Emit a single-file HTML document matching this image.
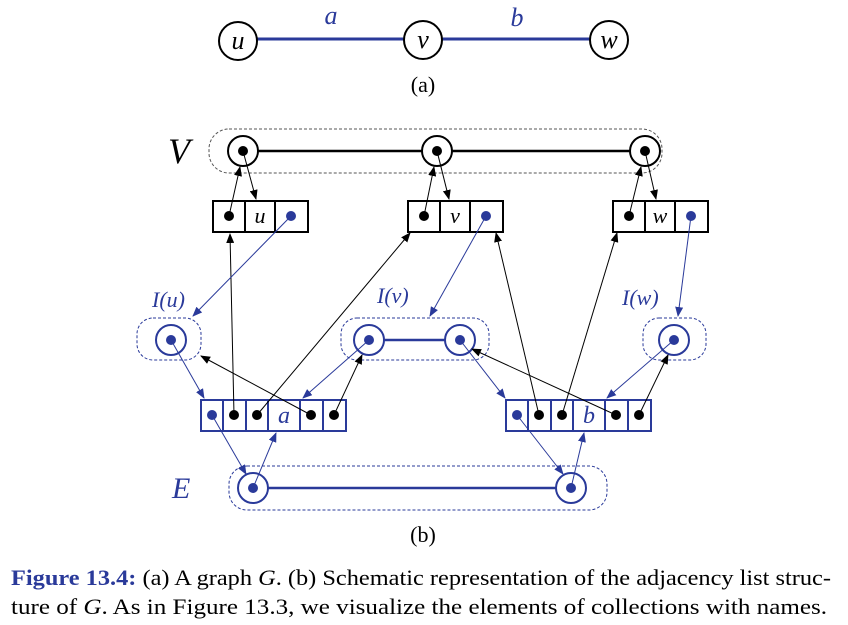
<!DOCTYPE html>
<html><head><meta charset="utf-8"><style>
html,body{margin:0;padding:0;background:#fff;}
svg{display:block;}
.t{font-family:"Liberation Serif",serif;}
</style></head><body>
<svg width="848" height="625" viewBox="0 0 848 625" xmlns="http://www.w3.org/2000/svg">
<defs>
<marker id="ak" markerWidth="10" markerHeight="8" refX="9" refY="4" orient="auto" markerUnits="userSpaceOnUse"><path d="M0,0 L10,4 L0,8 z" fill="#000"/></marker>
<marker id="ab" markerWidth="10" markerHeight="8" refX="9" refY="4" orient="auto" markerUnits="userSpaceOnUse"><path d="M0,0 L10,4 L0,8 z" fill="#2a3a9a"/></marker>
</defs>
<g>
<line x1="257" y1="39" x2="404" y2="39" stroke="#2a3a9a" stroke-width="3"/>
<line x1="442" y1="39" x2="590" y2="39" stroke="#2a3a9a" stroke-width="3"/>
<circle cx="238" cy="41" r="19" fill="#fff" stroke="#000" stroke-width="2"/>
<circle cx="423" cy="40" r="19" fill="#fff" stroke="#000" stroke-width="2"/>
<circle cx="609" cy="40" r="19" fill="#fff" stroke="#000" stroke-width="2"/>
<text class="t" x="238" y="49" font-size="26" font-style="italic" text-anchor="middle">u</text>
<text class="t" x="423" y="48" font-size="26" font-style="italic" text-anchor="middle">v</text>
<text class="t" x="609" y="48" font-size="26" font-style="italic" text-anchor="middle">w</text>
<text class="t" x="331" y="24" font-size="26" font-style="italic" fill="#2a3a9a" text-anchor="middle">a</text>
<text class="t" x="517" y="26" font-size="26" font-style="italic" fill="#2a3a9a" text-anchor="middle">b</text>
<text class="t" x="423" y="92" font-size="22" text-anchor="middle">(a)</text>
</g>
<rect x="209" y="129" width="453" height="44" rx="20" fill="none" stroke="#555" stroke-dasharray="3,2" stroke-width="1"/>
<text class="t" x="168" y="163" font-size="36" font-style="italic">V</text>
<line x1="258" y1="151" x2="422" y2="151" stroke="#000" stroke-width="2.5"/>
<line x1="452" y1="151" x2="630" y2="151" stroke="#000" stroke-width="2.5"/>
<g stroke="#000" stroke-width="2" fill="#fff">
<circle cx="243" cy="151" r="15"/>
<circle cx="437" cy="151" r="15"/>
<circle cx="645" cy="151" r="15"/>
</g>
<g fill="#000"><circle cx="243" cy="151" r="5"/><circle cx="437" cy="151" r="5"/><circle cx="645" cy="151" r="5"/></g>
<g stroke="#000" stroke-width="2" fill="#fff">
<rect x="213" y="201" width="95" height="31"/>
<line x1="245" y1="201" x2="245" y2="232"/><line x1="275" y1="201" x2="275" y2="232"/>
<rect x="408" y="201" width="95" height="31"/>
<line x1="440" y1="201" x2="440" y2="232"/><line x1="470" y1="201" x2="470" y2="232"/>
<rect x="613" y="201" width="95" height="31"/>
<line x1="645" y1="201" x2="645" y2="232"/><line x1="675" y1="201" x2="675" y2="232"/>
</g>
<g fill="#000"><circle cx="229" cy="216" r="5"/><circle cx="424" cy="216" r="5"/><circle cx="629" cy="216" r="5"/></g>
<g fill="#2a3a9a"><circle cx="291" cy="216" r="5"/><circle cx="486" cy="216" r="5"/><circle cx="691" cy="216" r="5"/></g>
<text class="t" x="260" y="223" font-size="22" font-style="italic" text-anchor="middle">u</text>
<text class="t" x="455" y="223" font-size="22" font-style="italic" text-anchor="middle">v</text>
<text class="t" x="660" y="223" font-size="22" font-style="italic" text-anchor="middle">w</text>
<g fill="none" stroke="#2a3a9a" stroke-dasharray="3,2" stroke-width="1">
<rect x="137" y="318" width="64" height="42" rx="16"/>
<rect x="341" y="318" width="148" height="42" rx="16"/>
<rect x="643" y="318" width="63" height="42" rx="16"/>
<rect x="229" y="466" width="378" height="44" rx="18"/>
</g>
<g fill="#2a3a9a" class="t" font-size="22" font-style="italic">
<text x="152" y="307">I(u)</text>
<text x="377" y="303">I(v)</text>
<text x="622" y="305">I(w)</text>
<text x="172" y="498" font-size="30">E</text>
</g>
<line x1="384" y1="340" x2="445" y2="340" stroke="#2a3a9a" stroke-width="2.5"/>
<line x1="268" y1="488" x2="556" y2="488" stroke="#2a3a9a" stroke-width="2.5"/>
<g stroke="#2a3a9a" stroke-width="2" fill="#fff">
<circle cx="171" cy="340" r="15"/><circle cx="369" cy="340" r="15"/><circle cx="460" cy="340" r="15"/><circle cx="674" cy="340" r="15"/>
<circle cx="253" cy="488" r="15"/><circle cx="571" cy="488" r="15"/>
</g>
<g fill="#2a3a9a"><circle cx="171" cy="340" r="5"/><circle cx="369" cy="340" r="5"/><circle cx="460" cy="340" r="5"/><circle cx="674" cy="340" r="5"/><circle cx="253" cy="488" r="5"/><circle cx="571" cy="488" r="5"/></g>
<g stroke="#2a3a9a" stroke-width="2" fill="#fff">
<rect x="201" y="400" width="145" height="31"/>
<line x1="223" y1="400" x2="223" y2="431"/><line x1="246" y1="400" x2="246" y2="431"/><line x1="268" y1="400" x2="268" y2="431"/><line x1="300" y1="400" x2="300" y2="431"/><line x1="323" y1="400" x2="323" y2="431"/>
<rect x="506" y="400" width="145" height="31"/>
<line x1="528" y1="400" x2="528" y2="431"/><line x1="551" y1="400" x2="551" y2="431"/><line x1="573" y1="400" x2="573" y2="431"/><line x1="605" y1="400" x2="605" y2="431"/><line x1="628" y1="400" x2="628" y2="431"/>
</g>
<g fill="#2a3a9a"><circle cx="212" cy="415" r="5"/><circle cx="517" cy="415" r="5"/></g>
<g fill="#000"><circle cx="234" cy="415" r="5"/><circle cx="257" cy="415" r="5"/><circle cx="311" cy="415" r="5"/><circle cx="334" cy="415" r="5"/>
<circle cx="539" cy="415" r="5"/><circle cx="562" cy="415" r="5"/><circle cx="616" cy="415" r="5"/><circle cx="639" cy="415" r="5"/></g>
<text class="t" x="284" y="423" font-size="24" font-style="italic" fill="#2a3a9a" text-anchor="middle">a</text>
<text class="t" x="589" y="423" font-size="24" font-style="italic" fill="#2a3a9a" text-anchor="middle">b</text>
<g stroke="#000" stroke-width="1" marker-end="url(#ak)" fill="none">
<line x1="229" y1="216" x2="240" y2="167"/><line x1="243" y1="151" x2="256" y2="199"/>
<line x1="424" y1="216" x2="434" y2="167"/><line x1="437" y1="151" x2="449" y2="199"/>
<line x1="629" y1="216" x2="641" y2="167"/><line x1="645" y1="151" x2="656" y2="199"/>
<line x1="234" y1="415" x2="230" y2="234"/>
<line x1="257" y1="415" x2="410" y2="233"/>
<line x1="311" y1="415" x2="201" y2="356"/>
<line x1="334" y1="415" x2="362" y2="355"/>
<line x1="539" y1="415" x2="496" y2="233"/>
<line x1="562" y1="415" x2="617" y2="233"/>
<line x1="616" y1="415" x2="472" y2="349"/>
<line x1="639" y1="415" x2="668" y2="355"/>
</g>
<g stroke="#2a3a9a" stroke-width="1" marker-end="url(#ab)" fill="none">
<line x1="291" y1="216" x2="193" y2="316"/>
<line x1="486" y1="216" x2="430" y2="316"/>
<line x1="691" y1="216" x2="678" y2="316"/>
<line x1="171" y1="340" x2="204" y2="398"/>
<line x1="369" y1="340" x2="303" y2="398"/>
<line x1="460" y1="340" x2="505" y2="398"/>
<line x1="674" y1="340" x2="607" y2="398"/>
<line x1="212" y1="415" x2="246" y2="474"/>
<line x1="253" y1="488" x2="276" y2="433"/>
<line x1="517" y1="415" x2="563" y2="474"/>
<line x1="571" y1="488" x2="584" y2="433"/>
</g>
<text class="t" x="423" y="542" font-size="22" text-anchor="middle">(b)</text>
<g>
<text class="t" x="11" y="585" font-size="22" textLength="820" lengthAdjust="spacingAndGlyphs"><tspan fill="#2a3a9a" font-weight="bold">Figure 13.4:</tspan> (a) A graph <tspan font-style="italic">G</tspan>. (b) Schematic representation of the adjacency list struc-</text>
<text class="t" x="11" y="614" font-size="22" textLength="816" lengthAdjust="spacingAndGlyphs">ture of <tspan font-style="italic">G</tspan>. As in Figure 13.3, we visualize the elements of collections with names.</text>
</g>
</svg>
</body></html>
